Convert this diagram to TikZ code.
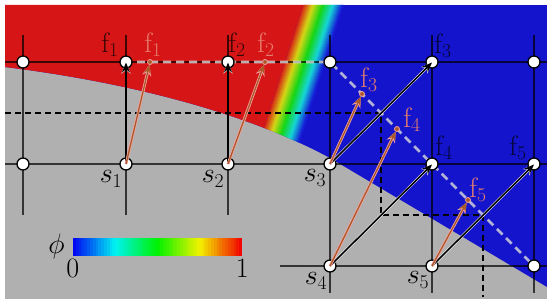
\RequirePackage{fix-cm}
\documentclass[tikz,border=0pt]{standalone}
\usepackage{xcolor}
\usepackage{amsmath}
\usepackage{tikz}
\usetikzlibrary{arrows.meta,positioning}

\definecolor{solidgray}{RGB}{176,176,176}
\definecolor{liqred}{RGB}{214,22,22}
\definecolor{liqblue}{RGB}{20,20,204}
\definecolor{shiftbrown}{RGB}{170,90,40}
\definecolor{shiftpink}{RGB}{245,165,165}
\definecolor{shifttext}{RGB}{230,125,110}

\begin{document}
\begin{tikzpicture}[x=1pt, y=-1pt,
    every node/.style={font=\fontsize{28}{30}\selectfont, inner sep=0pt},
    gridpt/.style={circle, draw=black, line width=1.3pt, fill=white, minimum size=12pt},
    gridline/.style={draw=black, draw opacity=0.7, line width=1.3pt},
    projline/.style={draw=black, line width=1.4pt, dash pattern=on 6pt off 4pt},
    shiftline/.style={draw=white!72!gray, draw opacity=0.8, line width=2.6pt, dash pattern=on 8pt off 5pt},
    solhalo/.style={-{Stealth[length=11pt,width=9pt]}, draw=white, line width=2.6pt},
    solarrow/.style={-{Stealth[length=10pt,width=8pt]}, draw=black, line width=1.6pt},
    shifthalo/.style={-{Stealth[length=11pt,width=9pt]}, draw=shiftpink, line width=2.8pt},
    shiftarrow/.style={-{Stealth[length=9pt,width=7pt]}, draw=shiftbrown, line width=1.3pt},
    shiftdot/.style={circle, fill=shiftbrown, draw=shiftpink, line width=0.8pt, minimum size=5pt},
    flabel/.style={text=black, text opacity=0.75},
    rlabel/.style={text=shifttext},
    slabel/.style={text=black}]
    \useasboundingbox (0,0) rectangle (550,304);

    % Solid phase
    \fill[solidgray] (5,5) rectangle (547,299);

    % Liquid phase field
    \begin{scope}
        \clip (5,5) -- (547,5) -- (547,287) -- (330,158) .. controls (260,120) and (150,85) .. (5,67) -- cycle;
        \fill[liqblue] (5,5) rectangle (547,299);
        \fill[liqred] (5,5) -- (303,5) -- (207,305) -- (5,305) -- cycle;
        \foreach \i in {0,...,39} {
            \pgfmathsetmacro\hh{(\i+0.5)/40*2/3}
            \definecolor{bandc}{hsb}{\hh,0.9,0.84}
            \fill[bandc] (303+\i,5) -- (304.6+\i,5) -- (208.6+\i,305) -- (207+\i,305) -- cycle;
        }
    \end{scope}

    % Grid
    \foreach \x in {23,126,228} \draw[gridline] (\x,35) -- (\x,215);
    \foreach \x in {330,432,534} \draw[gridline] (\x,35) -- (\x,293);
    \draw[gridline] (5,62) -- (547,62);
    \draw[gridline] (5,164) -- (547,164);
    \draw[gridline] (280,266) -- (547,266);

    % Projections and shifted interface
    \draw[projline] (5,113) -- (381,113) -- (381,215) -- (483,215) -- (483,297);
    \draw[shiftline] (137,62) -- (330,62) -- (534,266);

    % Grid points
    \node[gridpt] (p11) at (23,62) {};
    \node[gridpt] (f1) at (126,62) {};
    \node[gridpt] (f2) at (228,62) {};
    \node[gridpt] (p14) at (330,62) {};
    \node[gridpt] (f3) at (432,62) {};
    \node[gridpt] (p16) at (534,62) {};
    \node[gridpt] (p21) at (23,164) {};
    \node[gridpt] (s1) at (126,164) {};
    \node[gridpt] (s2) at (228,164) {};
    \node[gridpt] (s3) at (330,164) {};
    \node[gridpt] (f4) at (432,164) {};
    \node[gridpt] (f5) at (534,164) {};
    \node[gridpt] (s4) at (330,266) {};
    \node[gridpt] (s5) at (432,266) {};
    \node[gridpt] (p36) at (534,266) {};

    % Shifted points
    \node[shiftdot] (r1) at (150,62) {};
    \node[shiftdot] (r2) at (265,62) {};
    \node[shiftdot] (r3) at (362,94) {};
    \node[shiftdot] (r4) at (397,129) {};
    \node[shiftdot] (r5) at (468,200) {};

    % Arrows
    \foreach \a/\b in {s1/f1, s2/f2, s3/f3, s4/f4, s5/f5} {
        \draw[solhalo] (\a.center) -- ([yshift=-0.5pt]\b.center);
        \draw[solarrow] (\a.center) -- ([yshift=-0.5pt]\b.center);
    }
    \foreach \a/\b in {s1/r1, s2/r2, s3/r3, s4/r4, s5/r5} {
        \draw[shifthalo] (\a.center) -- (\b);
        \draw[shiftarrow] (\a.center) -- (\b);
    }

    % Labels
    \node[flabel, xshift=-16pt, yshift=17pt] (lf1) at (f1) {$\mathrm{f}_1$};
    \node[flabel, xshift=9pt, yshift=17pt] (lf2) at (f2) {$\mathrm{f}_2$};
    \node[flabel, xshift=11pt, yshift=16pt] (lf3) at (f3) {$\mathrm{f}_3$};
    \node[flabel, xshift=12pt, yshift=16pt] (lf4) at (f4) {$\mathrm{f}_4$};
    \node[flabel, xshift=-16pt, yshift=16pt] (lf5) at (f5) {$\mathrm{f}_5$};
    \node[rlabel, xshift=3pt, yshift=17pt] (lr1) at (r1) {$\mathrm{f}_1$};
    \node[rlabel, xshift=1pt, yshift=17pt] (lr2) at (r2) {$\mathrm{f}_2$};
    \node[rlabel, xshift=7pt, yshift=14pt] (lr3) at (r3) {$\mathrm{f}_3$};
    \node[rlabel, xshift=15pt, yshift=9pt] (lr4) at (r4) {$\mathrm{f}_4$};
    \node[rlabel, xshift=10pt, yshift=10pt] (lr5) at (r5) {$\mathrm{f}_5$};
    \node[slabel, xshift=-15pt, yshift=-15pt] (ls1) at (s1) {$s_1$};
    \node[slabel, xshift=-15pt, yshift=-15pt] (ls2) at (s2) {$s_2$};
    \node[slabel, xshift=-15pt, yshift=-14pt] (ls3) at (s3) {$s_3$};
    \node[slabel, xshift=-14pt, yshift=-15pt] (ls4) at (s4) {$s_4$};
    \node[slabel, xshift=-14pt, yshift=-14pt] (ls5) at (s5) {$s_5$};

    % Colour bar
    \node[minimum width=169pt, minimum height=18pt] (cbar) at (157.5,247) {};
    \foreach \i in {0,...,59} {
        \pgfmathsetmacro\hh{(1-(\i+0.5)/60)*2/3}
        \definecolor{barc}{hsb}{\hh,1,0.95}
        \fill[barc] (73+\i*2.8167,238) rectangle (76+\i*2.8167,256);
    }
    \node[left=8pt of cbar] (phi) {$\phi$};
    \node[below=3pt of cbar.south west] (cb0) {0};
    \node[below=3pt of cbar.south east] (cb1) {1};
\end{tikzpicture}
\end{document}
